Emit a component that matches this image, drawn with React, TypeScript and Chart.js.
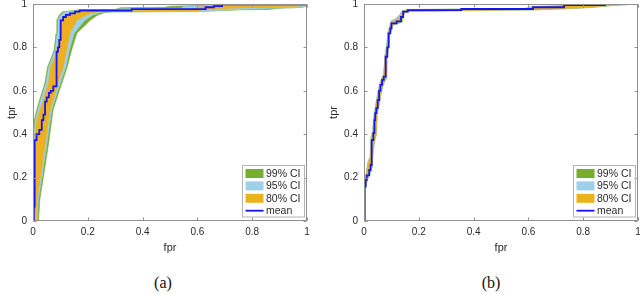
import React, { useEffect, useRef } from 'react';
import { Chart, registerables } from 'chart.js';

Chart.register(...registerables);

type P = [number, number];

// ---------- data ----------
const TICK_VALUES = [0, 0.2, 0.4, 0.6, 0.8, 1];
const LEGEND_LABELS = ['99% CI', '95% CI', '80% CI', 'mean'];
const X_TITLE = 'fpr';
const Y_TITLE = 'tpr';

// panel (a)
const aMean: P[] = [
  [0, 0], [0.003, 0], [0.003, 0.066], [0.006, 0.066], [0.006, 0.373], [0.013, 0.373], [0.013, 0.4],
  [0.023, 0.4], [0.023, 0.42], [0.032, 0.42], [0.032, 0.465], [0.038, 0.465], [0.038, 0.49],
  [0.044, 0.49], [0.044, 0.55], [0.05, 0.55], [0.05, 0.57], [0.058, 0.57], [0.058, 0.59],
  [0.065, 0.59], [0.065, 0.6], [0.074, 0.6], [0.074, 0.62], [0.086, 0.62], [0.086, 0.78],
  [0.091, 0.78], [0.091, 0.8], [0.096, 0.8], [0.096, 0.835], [0.101, 0.835], [0.101, 0.925],
  [0.11, 0.925], [0.11, 0.94], [0.12, 0.94], [0.12, 0.95], [0.135, 0.95], [0.135, 0.957],
  [0.153, 0.957], [0.153, 0.965], [0.17, 0.965], [0.17, 0.97], [0.36, 0.97], [0.36, 0.976],
  [0.63, 0.976], [0.63, 0.985], [0.66, 0.985], [0.66, 0.99], [0.69, 0.99], [0.69, 0.998],
  [1, 0.998], [1, 1],
];
const a99Upper: P[] = [
  [0, 0], [0, 0.1], [0, 0.3], [0.001, 0.4], [0.005, 0.465], [0.013, 0.51], [0.024, 0.558],
  [0.043, 0.634], [0.053, 0.71], [0.068, 0.757], [0.077, 0.788], [0.084, 0.865], [0.087, 0.926],
  [0.097, 0.95], [0.108, 0.964], [0.17, 0.973], [0.3, 0.975], [0.32, 0.983], [0.48, 0.985],
  [0.5, 0.99], [0.6, 0.993], [0.65, 1], [1, 1],
];
const a99Lower: P[] = [
  [0, 0], [0.02, 0], [0.025, 0.1], [0.038, 0.204], [0.057, 0.358], [0.073, 0.51], [0.096, 0.6],
  [0.125, 0.71], [0.141, 0.788], [0.16, 0.865], [0.21, 0.926], [0.235, 0.948], [0.26, 0.96],
  [0.285, 0.963], [0.6, 0.965], [0.7, 0.97], [0.75, 0.973], [0.86, 0.975], [0.9, 0.98],
  [0.98, 0.984], [1, 0.99], [1, 1],
];
const a95Upper: P[] = [
  [0, 0], [0, 0.075], [0.0015, 0.25], [0.0035, 0.4], [0.009, 0.465], [0.017, 0.51],
  [0.028, 0.558], [0.047, 0.634], [0.057, 0.71], [0.072, 0.757], [0.081, 0.788],
  [0.088, 0.865], [0.091, 0.926], [0.102, 0.95], [0.113, 0.962], [0.17, 0.971], [0.3, 0.974],
  [0.32, 0.978], [0.54, 0.98], [0.55, 0.988], [0.62, 0.991], [0.66, 0.999], [1, 1],
];
const a95Lower: P[] = [
  [0, 0], [0.016, 0], [0.02, 0.1], [0.033, 0.204], [0.051, 0.358], [0.068, 0.51], [0.09, 0.6],
  [0.12, 0.71], [0.133, 0.788], [0.15, 0.865], [0.19, 0.926], [0.22, 0.95], [0.25, 0.961],
  [0.27, 0.964], [0.6, 0.966], [0.75, 0.975], [0.9, 0.982], [0.98, 0.985], [1, 0.99], [1, 1],
];
const a80Upper: P[] = [
  [0, 0], [0.001, 0.06], [0.004, 0.25], [0.007, 0.4], [0.014, 0.465], [0.025, 0.51],
  [0.038, 0.558], [0.056, 0.634], [0.065, 0.71], [0.08, 0.757], [0.09, 0.8], [0.097, 0.835],
  [0.1, 0.926], [0.11, 0.94], [0.12, 0.952], [0.17, 0.968], [0.58, 0.975], [0.6, 0.985],
  [0.64, 0.99], [0.7, 0.997], [1, 1],
];
const a80Lower: P[] = [
  [0, 0], [0.012, 0], [0.015, 0.1], [0.027, 0.204], [0.045, 0.358], [0.062, 0.51],
  [0.074, 0.558], [0.083, 0.6], [0.11, 0.71], [0.123, 0.788], [0.135, 0.865], [0.16, 0.926],
  [0.21, 0.957], [0.25, 0.965], [0.6, 0.968], [0.62, 0.975], [0.75, 0.982], [0.9, 0.985],
  [0.97, 0.99], [1, 0.995], [1, 1],
];

// panel (b)
const bMean: P[] = [
  [0, 0], [0.002, 0], [0.002, 0.158], [0.006, 0.158], [0.006, 0.19], [0.01, 0.19], [0.01, 0.21],
  [0.019, 0.21], [0.019, 0.235], [0.024, 0.235], [0.024, 0.258], [0.028, 0.258], [0.028, 0.373],
  [0.034, 0.373], [0.034, 0.405], [0.038, 0.405], [0.038, 0.465], [0.041, 0.465], [0.041, 0.497],
  [0.045, 0.497], [0.045, 0.52], [0.05, 0.52], [0.05, 0.557], [0.055, 0.557], [0.055, 0.6],
  [0.06, 0.6], [0.06, 0.627], [0.066, 0.627], [0.066, 0.65], [0.072, 0.65], [0.072, 0.665],
  [0.079, 0.665], [0.079, 0.757], [0.085, 0.757], [0.085, 0.8], [0.09, 0.8], [0.09, 0.865],
  [0.096, 0.865], [0.096, 0.888], [0.1, 0.888], [0.1, 0.911], [0.119, 0.911], [0.119, 0.92],
  [0.135, 0.92], [0.135, 0.94], [0.143, 0.94], [0.143, 0.965], [0.16, 0.965], [0.16, 0.972],
  [0.355, 0.972], [0.355, 0.977], [0.617, 0.977], [0.617, 0.985], [0.73, 0.985], [0.73, 0.995],
  [0.88, 0.995], [0.88, 1], [1, 1],
];
const b99Upper: P[] = [
  [0, 0], [0, 0.166], [0.0033, 0.196], [0.0073, 0.216], [0.0113, 0.246], [0.0153, 0.276],
  [0.0228, 0.296], [0.0258, 0.386], [0.0318, 0.416], [0.0358, 0.476], [0.0388, 0.506],
  [0.0468, 0.566], [0.0528, 0.606], [0.0588, 0.636], [0.0648, 0.658], [0.0708, 0.676],
  [0.0738, 0.711], [0.0768, 0.766], [0.0828, 0.808], [0.0878, 0.873], [0.0938, 0.897],
  [0.0988, 0.922], [0.1148, 0.931], [0.1298, 0.949], [0.1388, 0.968], [0.16, 0.975],
  [0.588, 0.979], [0.613, 0.988], [0.708, 0.992], [0.848, 0.999], [1, 1],
];
const b99Lower: P[] = [
  [0, 0], [0.0037, 0], [0.0047, 0.144], [0.0097, 0.177], [0.0152, 0.197], [0.0232, 0.221],
  [0.0292, 0.247], [0.0322, 0.299], [0.0372, 0.359], [0.0452, 0.399], [0.0482, 0.499],
  [0.0512, 0.511], [0.0582, 0.551], [0.0632, 0.593], [0.0692, 0.621], [0.0752, 0.642],
  [0.0832, 0.659], [0.0842, 0.749], [0.0892, 0.792], [0.0932, 0.857], [0.1012, 0.881],
  [0.1052, 0.903], [0.1232, 0.909], [0.1392, 0.917], [0.1472, 0.958], [0.1675, 0.966],
  [0.38, 0.969], [0.63, 0.973], [0.76, 0.979], [0.83, 0.984], [0.91, 0.993], [1, 1],
];
const b95Upper: P[] = [
  [0, 0], [0, 0.165], [0.0035, 0.195], [0.0075, 0.215], [0.0115, 0.245], [0.0155, 0.275],
  [0.023, 0.295], [0.026, 0.385], [0.032, 0.415], [0.036, 0.475], [0.039, 0.505],
  [0.047, 0.565], [0.053, 0.605], [0.059, 0.635], [0.065, 0.657], [0.071, 0.675],
  [0.074, 0.71], [0.077, 0.765], [0.083, 0.807], [0.088, 0.872], [0.094, 0.896],
  [0.099, 0.921], [0.115, 0.93], [0.13, 0.948], [0.139, 0.967], [0.16, 0.974], [0.59, 0.978],
  [0.615, 0.987], [0.71, 0.991], [0.85, 0.998], [1, 1],
];
const b95Lower: P[] = [
  [0, 0], [0.0035, 0], [0.0045, 0.145], [0.0095, 0.178], [0.015, 0.198], [0.023, 0.222],
  [0.029, 0.248], [0.032, 0.3], [0.037, 0.36], [0.045, 0.4], [0.048, 0.5], [0.051, 0.512],
  [0.058, 0.552], [0.063, 0.594], [0.069, 0.622], [0.075, 0.643], [0.083, 0.66],
  [0.084, 0.75], [0.089, 0.793], [0.093, 0.858], [0.101, 0.882], [0.105, 0.904],
  [0.123, 0.91], [0.139, 0.918], [0.147, 0.959], [0.167, 0.967], [0.38, 0.97], [0.63, 0.974],
  [0.76, 0.98], [0.83, 0.985], [0.91, 0.994], [1, 1],
];
const b80Upper: P[] = [
  [0, 0], [0, 0.16], [0.004, 0.19], [0.008, 0.21], [0.012, 0.24], [0.016, 0.27], [0.024, 0.29],
  [0.027, 0.38], [0.033, 0.41], [0.037, 0.47], [0.04, 0.5], [0.048, 0.56], [0.054, 0.6],
  [0.06, 0.63], [0.066, 0.655], [0.072, 0.67], [0.075, 0.7], [0.078, 0.76], [0.084, 0.805],
  [0.089, 0.87], [0.095, 0.893], [0.1, 0.918], [0.118, 0.925], [0.132, 0.945], [0.14, 0.966],
  [0.16, 0.973], [0.6, 0.978], [0.62, 0.986], [0.72, 0.99], [0.86, 0.998], [1, 1],
];
const b80Lower: P[] = [
  [0, 0], [0.003, 0], [0.004, 0.15], [0.009, 0.18], [0.014, 0.2], [0.022, 0.225], [0.028, 0.25],
  [0.031, 0.3], [0.036, 0.36], [0.044, 0.4], [0.047, 0.5], [0.05, 0.515], [0.057, 0.553],
  [0.062, 0.597], [0.068, 0.623], [0.074, 0.645], [0.082, 0.662], [0.083, 0.75], [0.088, 0.795],
  [0.092, 0.86], [0.1, 0.884], [0.104, 0.906], [0.122, 0.912], [0.138, 0.92], [0.146, 0.96],
  [0.165, 0.968], [0.36, 0.97], [0.62, 0.974], [0.75, 0.98], [0.82, 0.985], [0.9, 0.994], [1, 1],
];

// ---------- styles ----------
const C99 = '#77AC30';
const C95 = '#9ED0E8';
const C80 = '#EDB120';
const CMEAN = '#1414F5';
const TEXT = '#2b2b2b';
const AXIS = '#8f8f8f';
const FONT = '"Liberation Sans", Arial, Helvetica, sans-serif';

const toXY = (pts: P[]) => pts.map(([x, y]) => ({ x, y }));
const polygon = (upper: P[], lower: P[]) => toXY([...upper, ...lower.slice().reverse()]);

type PanelProps = {
  mean: P[];
  u99: P[]; l99: P[];
  u95: P[]; l95: P[];
  u80: P[]; l80: P[];
  left: number; width: number; yW: number; padRight: number; yTitlePad: number;
  caption: string; captionX: number;
};

function RocPanel(p: PanelProps) {
  const ref = useRef<HTMLCanvasElement | null>(null);
  useEffect(() => {
    if (!ref.current) return;
    const frame = {
      id: 'frame',
      afterDatasetsDraw(chart: any) {
        const { ctx, chartArea: a, scales } = chart;
        const xs = scales.x, ys = scales.y;
        ctx.save();
        ctx.strokeStyle = AXIS;
        ctx.lineWidth = 1;
        const L = Math.round(a.left) + 0.5, R = Math.round(a.right) - 0.5;
        const T = Math.round(a.top) + 0.5, B = Math.round(a.bottom) - 0.5;
        ctx.strokeRect(L, T, R - L, B - T);
        const tl = 3;
        ctx.beginPath();
        for (const v of TICK_VALUES) {
          const px = Math.round(xs.getPixelForValue(v)) + 0.5;
          ctx.moveTo(px, B); ctx.lineTo(px, B - tl);
          ctx.moveTo(px, T); ctx.lineTo(px, T + tl);
          const py = Math.round(ys.getPixelForValue(v)) + 0.5;
          ctx.moveTo(L, py); ctx.lineTo(L + tl, py);
          ctx.moveTo(R, py); ctx.lineTo(R - tl, py);
        }
        ctx.stroke();
        ctx.restore();
      },
    };
    const legend = {
      id: 'ciLegend',
      afterDraw(chart: any) {
        const { ctx, chartArea: a } = chart;
        const w = 62, h = 51.5;
        const bx = Math.round(a.right - 3.5 - w) + 0.5;
        const by = Math.round(a.bottom - 5 - h) + 0.5;
        ctx.save();
        ctx.fillStyle = '#ffffff';
        ctx.fillRect(bx, by, w, h);
        ctx.strokeStyle = '#b4b4b4';
        ctx.lineWidth = 1;
        ctx.strokeRect(bx, by, w, h);
        const rows = [8, 20.4, 32.8, 45.2];
        const colors = [C99, C95, C80, CMEAN];
        ctx.font = `10.5px ${FONT}`;
        ctx.textBaseline = 'middle';
        ctx.textAlign = 'left';
        rows.forEach((ry, i) => {
          const cy = by + ry;
          if (i < 3) {
            ctx.fillStyle = colors[i];
            ctx.fillRect(bx + 3, cy - 4.5, 18, 9);
          } else {
            ctx.strokeStyle = CMEAN;
            ctx.lineWidth = 1.8;
            ctx.beginPath();
            ctx.moveTo(bx + 3, cy);
            ctx.lineTo(bx + 21, cy);
            ctx.stroke();
          }
          ctx.fillStyle = TEXT;
          ctx.fillText(LEGEND_LABELS[i], bx + 23.5, cy + 0.5);
        });
        ctx.restore();
      },
    };
    const band = (label: string, data: any, color: string) => ({
      label, data, borderColor: color, backgroundColor: color, borderWidth: 0.6,
      pointRadius: 0, fill: 'shape', tension: 0,
    });
    const tickFont = { family: FONT, size: 10 };
    const titleFont = { family: FONT, size: 11 };
    const chart = new Chart(ref.current, {
      type: 'line',
      data: {
        datasets: [
          {
            label: 'mean', data: toXY(p.mean), borderColor: CMEAN, backgroundColor: CMEAN,
            borderWidth: 1.8, pointRadius: 0, fill: false, tension: 0,
          },
          band('80% CI', polygon(p.u80, p.l80), C80),
          band('95% CI', polygon(p.u95, p.l95), C95),
          band('99% CI', polygon(p.u99, p.l99), C99),
        ] as any,
      },
      options: {
        animation: false,
        responsive: false,
        maintainAspectRatio: false,
        events: [],
        layout: { padding: { top: 14, right: p.padRight, left: 0, bottom: 0 } },
        plugins: { legend: { display: false }, tooltip: { enabled: false } },
        scales: {
          x: {
            type: 'linear', min: 0, max: 1,
            ticks: {
              stepSize: 0.2, padding: 5.5, color: TEXT, font: tickFont, maxRotation: 0,
              callback: (v: any) => String(+Number(v).toFixed(1)),
            },
            grid: { display: false, drawTicks: false },
            border: { display: false },
            title: { display: true, text: X_TITLE, color: TEXT, font: titleFont, padding: { top: 0, bottom: 5.4 } },
            afterFit: (s: any) => { s.height = 39; },
          },
          y: {
            type: 'linear', min: 0, max: 1,
            ticks: {
              stepSize: 0.2, padding: 6, color: TEXT, font: tickFont,
              callback: (v: any) => String(+Number(v).toFixed(1)),
            },
            grid: { display: false, drawTicks: false },
            border: { display: false },
            title: { display: true, text: Y_TITLE, color: TEXT, font: titleFont, padding: { top: p.yTitlePad, bottom: 0 } },
            afterFit: (s: any) => { s.width = p.yW; },
          },
        },
      } as any,
      plugins: [frame, legend],
    });
    return () => chart.destroy();
  }, []);
  return (
    <>
      <canvas
        ref={ref}
        width={p.width}
        height={270}
        style={{ position: 'absolute', left: p.left, top: -10, width: p.width, height: 270 }}
      />
      <div
        style={{
          position: 'absolute', left: p.captionX - 30, width: 60, top: 274, textAlign: 'center',
          fontFamily: '"Liberation Serif", "Times New Roman", serif', fontSize: 16, lineHeight: '18px',
          color: '#111',
        }}
      >
        {p.caption}
      </div>
    </>
  );
}

export default function App() {
  return (
    <div style={{ position: 'absolute', left: 0, top: 0, width: 640, height: 294, overflow: 'hidden', background: '#fff' }}>
      <RocPanel
        mean={aMean} u99={a99Upper} l99={a99Lower} u95={a95Upper} l95={a95Lower} u80={a80Upper} l80={a80Lower}
        left={0} width={320} yW={33} padRight={13} yTitlePad={5.1} caption="(a)" captionX={163}
      />
      <RocPanel
        mean={bMean} u99={b99Upper} l99={b99Lower} u95={b95Upper} l95={b95Lower} u80={b80Upper} l80={b80Lower}
        left={320} width={330} yW={44} padRight={12} yTitlePad={6.9} caption="(b)" captionX={491}
      />
    </div>
  );
}
